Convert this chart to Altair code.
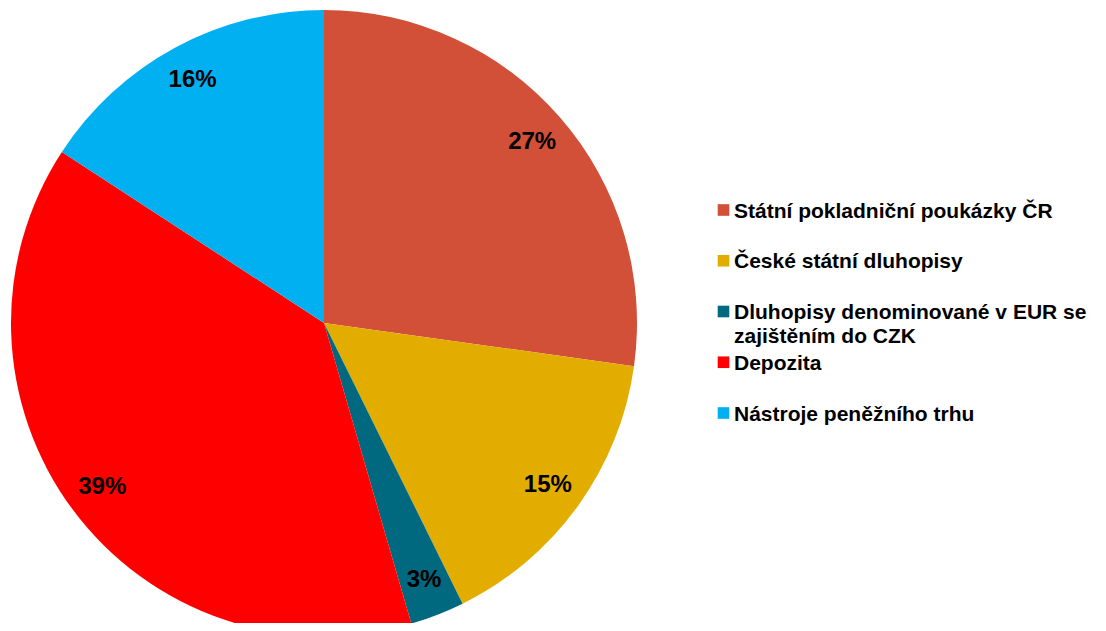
import altair as alt
import pandas as pd

categories = [
    "Státní pokladniční poukázky ČR",
    "České státní dluhopisy",
    "Dluhopisy denominované v EUR se zajištěním do CZK",
    "Depozita",
    "Nástroje peněžního trhu",
]
legend_text = [
    "Státní pokladniční poukázky ČR",
    "České státní dluhopisy",
    "Dluhopisy denominované v EUR se\nzajištěním do CZK",
    "Depozita",
    "Nástroje peněžního trhu",
]
values = [27.2, 15.5, 2.8, 38.7, 15.8]
pct_labels = ["27%", "15%", "3%", "39%", "16%"]
colors = ["#D24F38", "#E3AD00", "#00687F", "#FF0000", "#00B0F0"]

df = pd.DataFrame({
    "idx": list(range(len(categories))),
    "cat": categories,
    "legend": legend_text,
    "value": values,
    "label": pct_labels,
})

FONT = "Liberation Sans"
cx, cy = 316, 315

color = alt.Color("cat:N", scale=alt.Scale(domain=categories, range=colors), legend=None)
theta = alt.Theta("value:Q", stack=True)
order = alt.Order("idx:O")

base = alt.Chart(df)

arcs = base.mark_arc(radius=313, stroke=None).encode(
    theta=theta, color=color, order=order,
    x=alt.value(cx), y=alt.value(cy),
)

pie_text = base.mark_text(radius=276, font=FONT, fontWeight="bold", fontSize=24, color="black").encode(
    theta=theta, order=order, text="label:N",
    x=alt.value(cx), y=alt.value(cy),
)

ypos = alt.Y("cat:N", scale=alt.Scale(type="point", domain=categories, range=[202, 405], padding=0), axis=None)

leg_sq = base.mark_square(size=135, opacity=1).encode(
    y=ypos, x=alt.value(715.5), color=color,
)

leg_text = base.mark_text(
    align="left", baseline="alphabetic", dy=7.5, font=FONT, fontWeight="bold",
    fontSize=21, lineBreak="\n", lineHeight=24, color="black",
).encode(y=ypos, x=alt.value(726), text="legend:N")

chart = alt.layer(arcs, pie_text, leg_sq, leg_text).properties(
    width=1090, height=615, padding=0, autosize=alt.AutoSizeParams(type="none"),
).configure_view(stroke=None)

chart.save("out.html", embed_options={"renderer": "svg", "actions": False})
